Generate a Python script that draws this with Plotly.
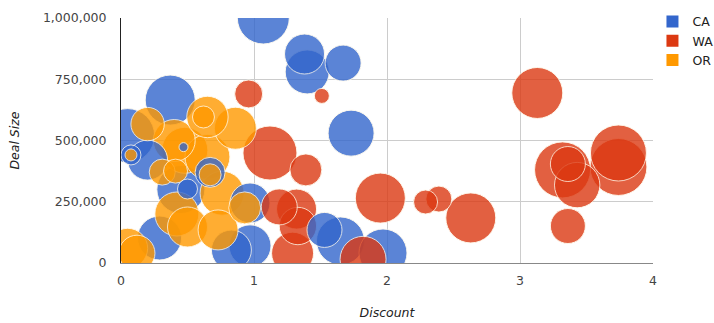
import plotly.graph_objects as go

# Deal data by state: discount, deal size and number of units (bubble size)
ca_discount = [1.07, 1.38, 1.40, 1.67, 1.73, 0.37, 0.05, 0.075, 0.47, 0.50, 0.45, 0.67,
               0.29, 0.97, 0.97, 0.83, 1.53, 1.65, 1.97, 0.20]
ca_deal = [1000000, 853000, 780000, 816000, 530000, 665000, 520000, 441000, 473000, 302000,
           300000, 370000, 102000, 245000, 70000, 53000, 135000, 90000, 41000, 420000]
ca_units = [260, 200, 220, 180, 230, 250, 270, 100, 45, 100, 240, 150,
            220, 200, 210, 200, 175, 240, 240, 200]

wa_discount = [0.96, 1.51, 1.12, 1.39, 1.95, 1.19, 1.32, 1.33, 1.29, 1.82, 2.29, 2.39,
               2.63, 3.13, 3.32, 3.36, 3.43, 3.36, 3.74, 3.74]
wa_deal = [690000, 682000, 449000, 380000, 265000, 229000, 220000, 151000, 40000, 15000,
           249000, 261000, 184000, 694000, 380000, 404000, 318000, 151000, 449000, 392000]
wa_units = [140, 75, 270, 160, 250, 180, 200, 187, 210, 230, 120, 130,
            250, 255, 280, 175, 227, 175, 280, 285]

or_discount = [0.20, 0.65, 0.62, 0.86, 0.40, 0.48, 0.65, 0.31, 0.41, 0.075, 0.67, 0.76,
               0.93, 0.50, 0.42, 0.73, 0.05, 0.12]
or_deal = [567000, 596000, 596000, 550000, 500000, 460000, 433000, 371000, 375000, 441000,
           360000, 285000, 225000, 147000, 200000, 135000, 60000, 40000]
or_units = [167, 207, 110, 210, 210, 230, 225, 130, 120, 60, 110, 220,
            160, 200, 220, 200, 200, 180]

states = ["CA", "WA", "OR"]
colors = {"CA": "#3366CC", "WA": "#DC3912", "OR": "#FF9900"}

rows = []
for st, xs, ys, us in [("CA", ca_discount, ca_deal, ca_units),
                       ("WA", wa_discount, wa_deal, wa_units),
                       ("OR", or_discount, or_deal, or_units)]:
    for x, y, u in zip(xs, ys, us):
        rows.append((st, x, y, u))

# larger bubbles first so the small ones stay visible on top
rows.sort(key=lambda r: -r[3])

fig = go.Figure()
fig.add_trace(go.Scatter(
    x=[r[1] for r in rows],
    y=[r[2] for r in rows],
    mode="markers",
    showlegend=False,
    hoverinfo="skip",
    cliponaxis=True,
    marker=dict(
        size=[r[3] for r in rows],
        sizemode="diameter",
        sizeref=5,
        color=[colors[r[0]] for r in rows],
        opacity=0.8,
        line=dict(color="rgba(255,250,235,0.95)", width=1),
    ),
))

# legend entries
for st in states:
    fig.add_trace(go.Scatter(
        x=[None], y=[None], mode="markers", name=st,
        marker=dict(symbol="square", size=12, color=colors[st]),
    ))

font_family = "DejaVu Sans, Verdana, sans-serif"
fig.update_layout(
    width=714, height=323,
    margin=dict(l=121, r=61, t=18, b=60, autoexpand=False),
    paper_bgcolor="white",
    plot_bgcolor="white",
    font=dict(family=font_family, size=12.5, color="#444444"),
    legend=dict(x=0.999, y=1.045, xanchor="left", yanchor="top",
                font=dict(size=12.5, color="#222222"),
                itemwidth=30, tracegroupgap=0, bgcolor="rgba(0,0,0,0)"),
    xaxis=dict(
        range=[0, 4], tickvals=[0, 1, 2, 3, 4], ticktext=["0", "1", "2", "3", "4"],
        showgrid=True, gridcolor="#cccccc", gridwidth=1,
        zeroline=False, showline=True, linecolor="#888888", linewidth=1,
        ticks="", fixedrange=True, automargin=False, ticklabelstandoff=6,
        title=dict(text="<i>Discount</i>", standoff=21,
                   font=dict(size=12.5, color="#222222")),
    ),
    yaxis=dict(
        range=[0, 1000000], tickvals=[0, 250000, 500000, 750000, 1000000],
        ticktext=["0", "250,000", "500,000", "750,000", "1,000,000"],
        showgrid=True, gridcolor="#cccccc", gridwidth=1,
        zeroline=False, showline=True, linecolor="#222222", linewidth=1,
        ticks="", fixedrange=True, automargin=False, ticklabelstandoff=11,
        title=dict(text="<i>Deal Size</i>", standoff=20,
                   font=dict(size=12.5, color="#222222")),
    ),
)

fig.write_html("out.html")
